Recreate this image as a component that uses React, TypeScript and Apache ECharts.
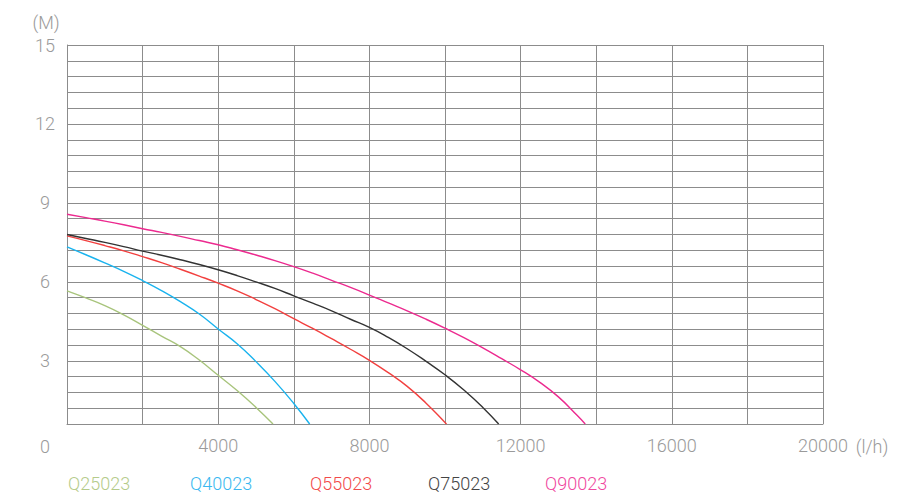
import React, { useEffect, useRef } from "react";
import * as echarts from "echarts";

// Flow (l/h) vs head (M)
const q25023: [number, number][] = [
  [0, 5.66], [500, 5.39], [1000, 5.1], [1500, 4.75], [2000, 4.35], [2500, 3.94], [3000, 3.54], [3500, 3.03], [4000, 2.45], [4500, 1.87], [5000, 1.23], [5450, 0.6],
];
const q40023: [number, number][] = [
  [0, 7.33], [500, 7.03], [1000, 6.72], [1500, 6.4], [2000, 6.05], [2500, 5.67], [3000, 5.25], [3500, 4.78], [4000, 4.21], [4500, 3.65], [5000, 2.97], [5500, 2.22], [6000, 1.38], [6420, 0.6],
];
const q55023: [number, number][] = [
  [0, 7.75], [500, 7.57], [1000, 7.38], [1500, 7.18], [2000, 6.96], [2500, 6.73], [3000, 6.48], [3500, 6.22], [4000, 5.95], [4500, 5.66], [5000, 5.33], [5500, 4.98], [6000, 4.6], [6500, 4.23], [7000, 3.84], [7500, 3.44], [8000, 3.02], [8500, 2.55], [9000, 2.03], [9500, 1.39], [10000, 0.66], [10040, 0.6],
];
const q75023: [number, number][] = [
  [0, 7.8], [500, 7.65], [1000, 7.5], [1500, 7.34], [2000, 7.17], [2500, 7.01], [3000, 6.84], [3500, 6.66], [4000, 6.46], [4500, 6.24], [5000, 6.0], [5500, 5.75], [6000, 5.47], [6500, 5.19], [7000, 4.9], [7500, 4.58], [8000, 4.27], [8500, 3.89], [9000, 3.46], [9500, 2.98], [10000, 2.47], [10500, 1.89], [11000, 1.23], [11420, 0.6],
];
const q90023: [number, number][] = [
  [0, 8.57], [500, 8.44], [1000, 8.31], [1500, 8.17], [2000, 8.02], [2500, 7.88], [3000, 7.73], [3500, 7.57], [4000, 7.41], [4500, 7.22], [5000, 7.02], [5500, 6.81], [6000, 6.58], [6500, 6.33], [7000, 6.06], [7500, 5.79], [8000, 5.5], [8500, 5.2], [9000, 4.9], [9500, 4.58], [10000, 4.24], [10500, 3.88], [11000, 3.49], [11500, 3.08], [12000, 2.66], [12500, 2.19], [13000, 1.63], [13500, 0.92], [13710, 0.6],
];

const seriesNames = ["Q25023", "Q40023", "Q55023", "Q75023", "Q90023"];
const seriesData = [q25023, q40023, q55023, q75023, q90023];
const lineColors = ["#a8c47c", "#1ab3ee", "#f2403f", "#333333", "#ec2a8f"];
const legendColors = ["#b5cb8a", "#3ab8f0", "#f24a4a", "#444444", "#f048a0"];
const legendX = [68, 190, 310, 428, 545];

const FONT = "Roboto, 'Liberation Sans', sans-serif";

export default function App() {
  const ref = useRef<HTMLDivElement>(null);
  useEffect(() => {
    if (!ref.current) return;
    const chart = echarts.init(ref.current, undefined, { renderer: "svg" });
    const labelStyle = {
      color: "#9a9a9a",
      fontSize: 18,
      fontFamily: FONT,
      fontWeight: 300 as any,
    };
    chart.setOption({
      animation: false,
      grid: { left: 67, right: 77, top: 45, bottom: 76, containLabel: false },
      xAxis: {
        type: "value",
        min: 0,
        max: 20000,
        interval: 2000,
        axisLine: { show: true, lineStyle: { color: "#8c8c8c", width: 1 } },
        axisTick: { show: false },
        splitLine: { show: true, lineStyle: { color: "#8c8c8c", width: 1 } },
        axisLabel: {
          ...labelStyle,
          margin: 12,
          formatter: (v: number) => (v !== 0 && Math.round(v) % 4000 === 0 ? String(Math.round(v)) : ""),
        },
      },
      yAxis: {
        type: "value",
        min: 0.6,
        max: 15,
        interval: 0.6,
        axisLine: { show: true, lineStyle: { color: "#8c8c8c", width: 1 } },
        axisTick: { show: false },
        splitLine: { show: true, lineStyle: { color: "#8c8c8c", width: 1 } },
        axisLabel: {
          ...labelStyle,
          align: "center",
          margin: 22,
          formatter: (v: number) => {
            const k = v / 3;
            return Math.abs(k - Math.round(k)) < 1e-6 ? String(Math.round(v)) : "";
          },
        },
      },
      series: seriesNames.map((name, i) => ({
        name,
        type: "line",
        data: seriesData[i],
        smooth: 0.5,
        showSymbol: false,
        symbol: "none",
        lineStyle: { color: lineColors[i], width: 1.4 },
        itemStyle: { color: lineColors[i] },
      })),
      graphic: [
        {
          type: "text",
          x: 46,
          y: 22,
          style: { text: "(M)", fontSize: 18, fontFamily: FONT, fontWeight: 300, fill: "#9a9a9a", align: "center", verticalAlign: "middle" },
        },
        {
          type: "text",
          x: 45,
          y: 446,
          style: { text: "0", fontSize: 18, fontFamily: FONT, fontWeight: 300, fill: "#9a9a9a", align: "center", verticalAlign: "middle" },
        },
        {
          type: "text",
          x: 872,
          y: 446,
          style: { text: "(l/h)", fontSize: 18, fontFamily: FONT, fontWeight: 300, fill: "#9a9a9a", align: "center", verticalAlign: "middle" },
        },
        ...seriesNames.map((name, i) => ({
          type: "text",
          x: legendX[i],
          y: 483,
          style: {
            text: name,
            fontSize: 18,
            fontFamily: FONT,
            fontWeight: 300,
            fill: legendColors[i],
            align: "left",
            verticalAlign: "middle",
          },
        })),
      ],
    });
    return () => chart.dispose();
  }, []);
  return <div ref={ref} style={{ width: 900, height: 500, position: "absolute", left: 0, top: 0 }} />;
}
